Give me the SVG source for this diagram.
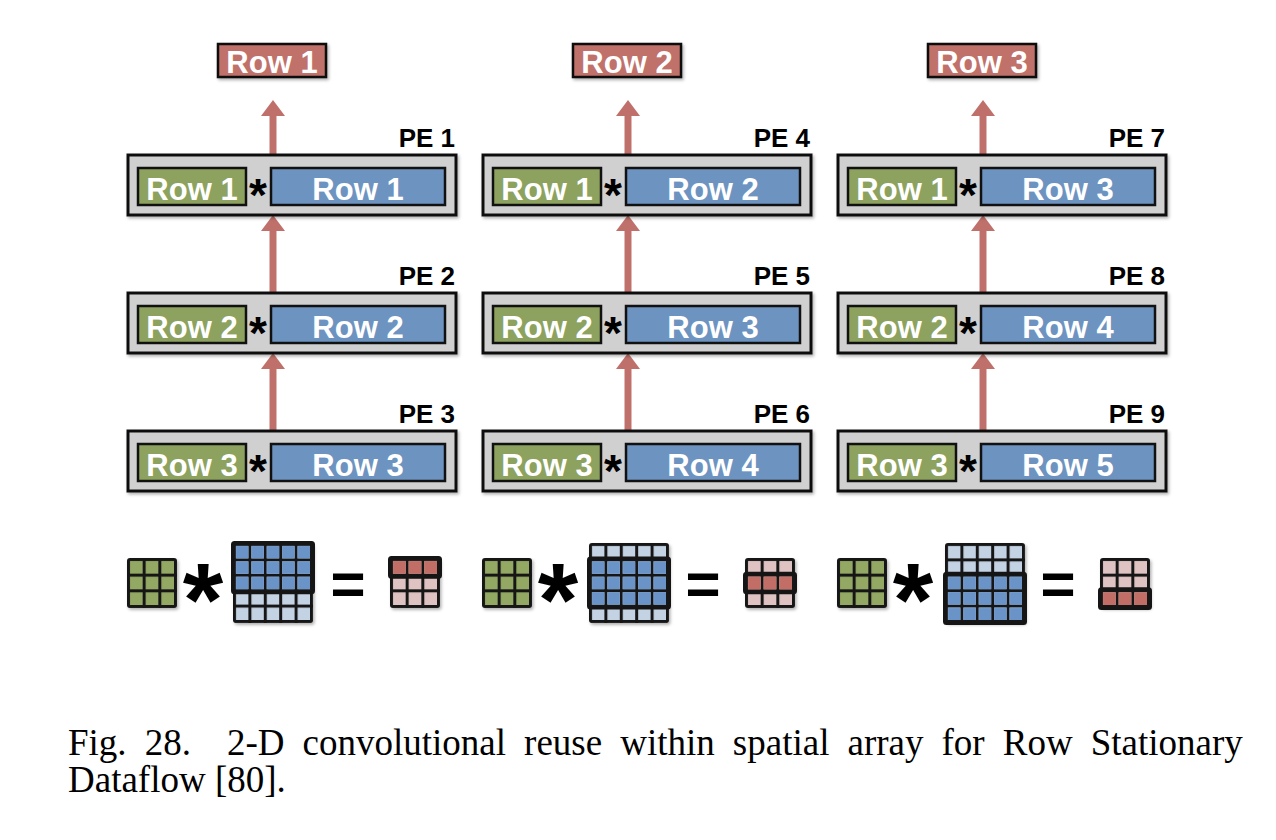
<svg xmlns="http://www.w3.org/2000/svg" width="1276" height="840" viewBox="0 0 1276 840">
<style>
.pe{fill:#D0D0D0;stroke:#111;stroke-width:3}
.gr{fill:#8DA25E;stroke:#111;stroke-width:2.5}
.bl{fill:#6D93C0;stroke:#111;stroke-width:2.5}
.rd{fill:#C0716A;stroke:#111;stroke-width:2.5}
.wt{font-family:"Liberation Sans",Arial,sans-serif;font-weight:bold;font-size:31px;fill:#fff;text-anchor:middle}
.lb{font-family:"Liberation Sans",Arial,sans-serif;font-weight:bold;font-size:26px;fill:#000;text-anchor:end}
.ast{font-family:"Liberation Sans",Arial,sans-serif;font-weight:bold;font-size:46px;fill:#000;text-anchor:middle}
.bast{font-family:"Liberation Sans",Arial,sans-serif;font-weight:bold;font-size:104px;fill:#000;text-anchor:middle}
.eq{font-family:"Liberation Sans",Arial,sans-serif;font-weight:bold;font-size:60px;fill:#000;text-anchor:middle}
.cap{font-family:"Liberation Serif","Times New Roman",serif;font-size:37px;fill:#000}
.arr{stroke:#C0706A;stroke-width:7;fill:none;marker-end:url(#ah)}
.mx{fill:#151515}
.hl{fill:none;stroke:#151515;stroke-width:3}
</style>
<defs>
<filter id="sh" x="-10%" y="-10%" width="125%" height="140%">
<feDropShadow dx="1.5" dy="2" stdDeviation="1.5" flood-color="#000" flood-opacity="0.3"/>
</filter>
<marker id="ah" viewBox="0 0 16 24" refX="0" refY="12" markerWidth="16" markerHeight="24" markerUnits="userSpaceOnUse" orient="auto">
<path d="M0,0 L16,12 L0,24 z" fill="#C0706A"/>
</marker>
<pattern id="pG" width="15.667" height="15.667" patternUnits="userSpaceOnUse"><rect x="3" y="3" width="12.667" height="12.667" fill="#93A862"/></pattern>
<pattern id="pP" width="15.667" height="15.667" patternUnits="userSpaceOnUse"><rect x="3" y="3" width="12.667" height="12.667" fill="#DFC3C3"/></pattern>
<pattern id="pR" width="15.667" height="15.667" patternUnits="userSpaceOnUse"><rect x="3" y="3" width="12.667" height="12.667" fill="#C26E66"/></pattern>
<pattern id="pB" width="15.4" height="15.4" patternUnits="userSpaceOnUse"><rect x="3" y="3" width="12.4" height="12.4" fill="#6A93C8"/></pattern>
<pattern id="pL" width="15.4" height="15.4" patternUnits="userSpaceOnUse"><rect x="3" y="3" width="12.4" height="12.4" fill="#C4D3E3"/></pattern>
</defs>
<rect width="1276" height="840" fill="#fff"/>

<g id="connectors">
<line class="arr" x1="273" y1="155" x2="273" y2="116"/>
<line class="arr" x1="273" y1="293" x2="273" y2="231"/>
<line class="arr" x1="273" y1="431" x2="273" y2="369"/>
<line class="arr" x1="628" y1="155" x2="628" y2="116"/>
<line class="arr" x1="628" y1="293" x2="628" y2="231"/>
<line class="arr" x1="628" y1="431" x2="628" y2="369"/>
<line class="arr" x1="983" y1="155" x2="983" y2="116"/>
<line class="arr" x1="983" y1="293" x2="983" y2="231"/>
<line class="arr" x1="983" y1="431" x2="983" y2="369"/>
</g>

<g id="out1"><rect class="rd" x="218" y="44" width="108" height="33" filter="url(#sh)"/><text class="wt" x="272" y="73" font-size="30">Row 1</text></g>
<g id="out2"><rect class="rd" x="573" y="44" width="108" height="33" filter="url(#sh)"/><text class="wt" x="627" y="73" font-size="30">Row 2</text></g>
<g id="out3"><rect class="rd" x="928" y="44" width="108" height="33" filter="url(#sh)"/><text class="wt" x="982" y="73" font-size="30">Row 3</text></g>

<g id="pe1"><text class="lb" x="455" y="147">PE 1</text><rect class="pe" x="128" y="155" width="328" height="60" filter="url(#sh)"/><rect class="gr" x="138" y="168" width="108" height="37"/><text class="wt" x="192" y="200">Row 1</text><text class="ast" x="258" y="211">*</text><rect class="bl" x="271" y="168" width="174" height="37"/><text class="wt" x="358" y="200">Row 1</text></g>
<g id="pe2"><text class="lb" x="455" y="285">PE 2</text><rect class="pe" x="128" y="293" width="328" height="60" filter="url(#sh)"/><rect class="gr" x="138" y="306" width="108" height="37"/><text class="wt" x="192" y="338">Row 2</text><text class="ast" x="258" y="349">*</text><rect class="bl" x="271" y="306" width="174" height="37"/><text class="wt" x="358" y="338">Row 2</text></g>
<g id="pe3"><text class="lb" x="455" y="423">PE 3</text><rect class="pe" x="128" y="431" width="328" height="60" filter="url(#sh)"/><rect class="gr" x="138" y="444" width="108" height="37"/><text class="wt" x="192" y="476">Row 3</text><text class="ast" x="258" y="487">*</text><rect class="bl" x="271" y="444" width="174" height="37"/><text class="wt" x="358" y="476">Row 3</text></g>

<g id="pe4"><text class="lb" x="810" y="147">PE 4</text><rect class="pe" x="483" y="155" width="328" height="60" filter="url(#sh)"/><rect class="gr" x="493" y="168" width="108" height="37"/><text class="wt" x="547" y="200">Row 1</text><text class="ast" x="613" y="211">*</text><rect class="bl" x="626" y="168" width="174" height="37"/><text class="wt" x="713" y="200">Row 2</text></g>
<g id="pe5"><text class="lb" x="810" y="285">PE 5</text><rect class="pe" x="483" y="293" width="328" height="60" filter="url(#sh)"/><rect class="gr" x="493" y="306" width="108" height="37"/><text class="wt" x="547" y="338">Row 2</text><text class="ast" x="613" y="349">*</text><rect class="bl" x="626" y="306" width="174" height="37"/><text class="wt" x="713" y="338">Row 3</text></g>
<g id="pe6"><text class="lb" x="810" y="423">PE 6</text><rect class="pe" x="483" y="431" width="328" height="60" filter="url(#sh)"/><rect class="gr" x="493" y="444" width="108" height="37"/><text class="wt" x="547" y="476">Row 3</text><text class="ast" x="613" y="487">*</text><rect class="bl" x="626" y="444" width="174" height="37"/><text class="wt" x="713" y="476">Row 4</text></g>

<g id="pe7"><text class="lb" x="1165" y="147">PE 7</text><rect class="pe" x="838" y="155" width="328" height="60" filter="url(#sh)"/><rect class="gr" x="848" y="168" width="108" height="37"/><text class="wt" x="902" y="200">Row 1</text><text class="ast" x="968" y="211">*</text><rect class="bl" x="981" y="168" width="174" height="37"/><text class="wt" x="1068" y="200">Row 3</text></g>
<g id="pe8"><text class="lb" x="1165" y="285">PE 8</text><rect class="pe" x="838" y="293" width="328" height="60" filter="url(#sh)"/><rect class="gr" x="848" y="306" width="108" height="37"/><text class="wt" x="902" y="338">Row 2</text><text class="ast" x="968" y="349">*</text><rect class="bl" x="981" y="306" width="174" height="37"/><text class="wt" x="1068" y="338">Row 4</text></g>
<g id="pe9"><text class="lb" x="1165" y="423">PE 9</text><rect class="pe" x="838" y="431" width="328" height="60" filter="url(#sh)"/><rect class="gr" x="848" y="444" width="108" height="37"/><text class="wt" x="902" y="476">Row 3</text><text class="ast" x="968" y="487">*</text><rect class="bl" x="981" y="444" width="174" height="37"/><text class="wt" x="1068" y="476">Row 5</text></g>

<g id="eq1">
<g transform="translate(127,558)"><rect class="mx" width="50" height="50" rx="3" filter="url(#sh)"/><rect width="50" height="50" fill="url(#pG)"/></g>
<text class="bast" x="203" y="636">*</text>
<g transform="translate(233,543)"><rect class="mx" width="80" height="80" rx="3" filter="url(#sh)"/><rect width="80" height="80" fill="url(#pL)"/><rect width="80" height="49.2" fill="url(#pB)"/><rect class="hl" x="-0.5" y="-0.5" width="81" height="50.2" rx="2"/></g>
<text class="eq" x="348" y="604">=</text>
<g transform="translate(390,558)"><rect class="mx" width="50" height="50" rx="3" filter="url(#sh)"/><rect width="50" height="50" fill="url(#pP)"/><rect width="50" height="18.667" fill="url(#pR)"/><rect class="hl" x="-0.5" y="-0.5" width="51" height="19.667" rx="2"/></g>
</g>

<g id="eq2">
<g transform="translate(482,558)"><rect class="mx" width="50" height="50" rx="3" filter="url(#sh)"/><rect width="50" height="50" fill="url(#pG)"/></g>
<text class="bast" x="558" y="636">*</text>
<g transform="translate(589,543)"><rect class="mx" width="80" height="80" rx="3" filter="url(#sh)"/><rect width="80" height="80" fill="url(#pL)"/><rect y="15.4" width="80" height="49.2" fill="url(#pB)"/><rect class="hl" x="-0.5" y="14.9" width="81" height="50.2" rx="2"/></g>
<text class="eq" x="703" y="604">=</text>
<g transform="translate(745,558)"><rect class="mx" width="50" height="50" rx="3" filter="url(#sh)"/><rect width="50" height="50" fill="url(#pP)"/><rect y="15.667" width="50" height="18.667" fill="url(#pR)"/><rect class="hl" x="-0.5" y="15.167" width="51" height="19.667" rx="2"/></g>
</g>

<g id="eq3">
<g transform="translate(837,558)"><rect class="mx" width="50" height="50" rx="3" filter="url(#sh)"/><rect width="50" height="50" fill="url(#pG)"/></g>
<text class="bast" x="913" y="636">*</text>
<g transform="translate(945,543)"><rect class="mx" width="80" height="80" rx="3" filter="url(#sh)"/><rect width="80" height="80" fill="url(#pL)"/><rect y="30.8" width="80" height="49.2" fill="url(#pB)"/><rect class="hl" x="-0.5" y="30.3" width="81" height="50.2" rx="2"/></g>
<text class="eq" x="1058" y="604">=</text>
<g transform="translate(1100,558)"><rect class="mx" width="50" height="50" rx="3" filter="url(#sh)"/><rect width="50" height="50" fill="url(#pP)"/><rect y="31.333" width="50" height="18.667" fill="url(#pR)"/><rect class="hl" x="-0.5" y="30.833" width="51" height="19.667" rx="2"/></g>
</g>

<g id="caption">
<text class="cap" x="68" y="755" xml:space="preserve" word-spacing="8.8">Fig. 28.  2-D convolutional reuse within spatial array for Row Stationary</text>
<text class="cap" x="68" y="792">Dataflow [80].</text>
</g>
</svg>
